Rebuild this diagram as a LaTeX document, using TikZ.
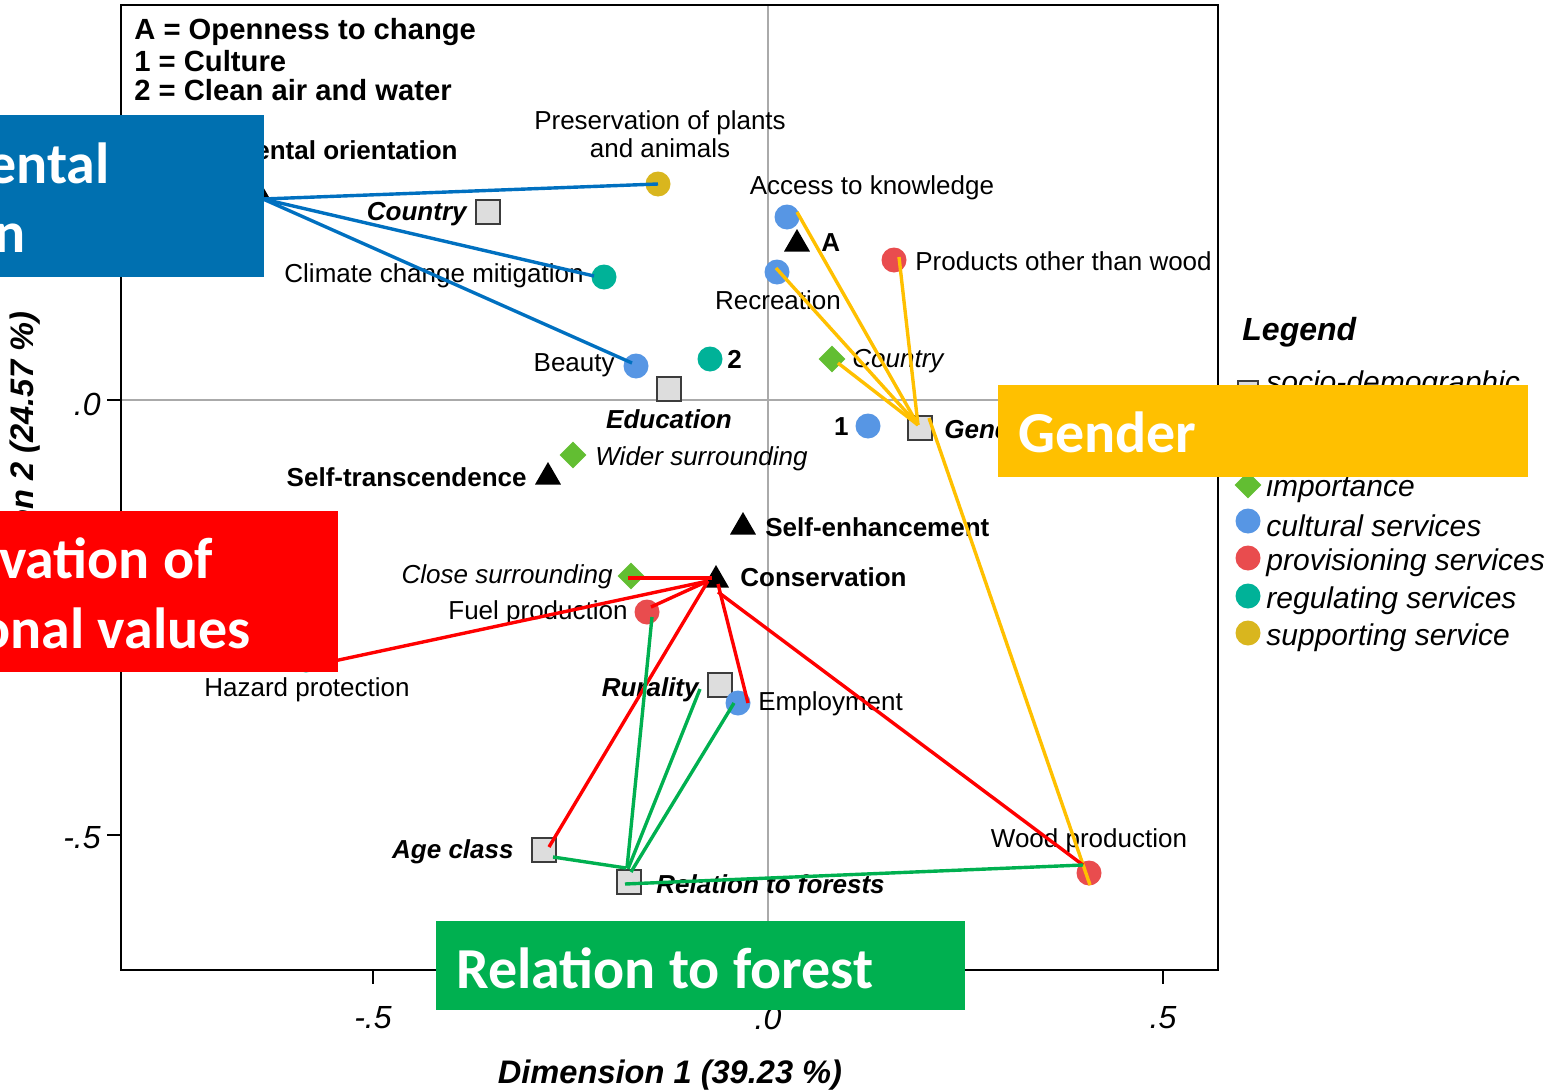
\documentclass[tikz,border=0pt]{standalone}
\usepackage{fontspec}
\setmainfont{Liberation Sans}
\newfontfamily\boxfont{Carlito}
\usetikzlibrary{shapes.geometric}
\definecolor{cultC}{RGB}{87,150,228}
\definecolor{provC}{RGB}{233,76,78}
\definecolor{regC}{RGB}{0,178,152}
\definecolor{supC}{RGB}{217,182,30}
\definecolor{dimC}{RGB}{98,190,50}
\definecolor{sqF}{RGB}{221,221,221}
\definecolor{sqD}{RGB}{60,60,60}
\definecolor{refC}{RGB}{170,170,170}
\definecolor{lnBlue}{RGB}{0,112,192}
\definecolor{lnGold}{RGB}{255,192,0}
\definecolor{lnRed}{RGB}{255,0,0}
\definecolor{lnGreen}{RGB}{0,176,80}
\definecolor{bxBlue}{RGB}{0,112,176}
\tikzset{
  lab/.style={inner sep=0pt, font=\fontsize{13}{15}\selectfont},
  labb/.style={inner sep=0pt, font=\fontsize{13}{15}\selectfont\bfseries},
  labi/.style={inner sep=0pt, font=\fontsize{13}{15}\selectfont\itshape},
  labbi/.style={inner sep=0pt, font=\fontsize{13}{15}\selectfont\bfseries\itshape},
  hdr/.style={inner sep=0pt, anchor=west, font=\fontsize{14.6}{16}\selectfont\bfseries},
  legtxt/.style={inner sep=0pt, anchor=west, font=\fontsize{15}{17}\selectfont\itshape},
  tick/.style={inner sep=0pt, font=\fontsize{16}{18}\selectfont\itshape},
  mk/.style={circle, inner sep=0pt, minimum size=12.5pt},
  cult/.style={mk, fill=cultC},
  prov/.style={mk, fill=provC},
  regu/.style={mk, fill=regC},
  supp/.style={mk, fill=supC},
  sqr/.style={rectangle, inner sep=0pt, minimum size=12pt, fill=sqF, draw=sqD, line width=0.7pt},
  tri/.style={regular polygon, regular polygon sides=3, inner sep=0pt, minimum size=15pt, fill=black},
  dia/.style={diamond, inner sep=0pt, minimum width=13.5pt, minimum height=13.5pt, fill=dimC},
  conn/.style={line width=1.7pt},
  bl/.style={conn, draw=lnBlue},
  yl/.style={conn, draw=lnGold},
  rl/.style={conn, draw=lnRed},
  gl/.style={conn, draw=lnGreen},
  frame/.style={line width=1.25pt, draw=black},
  boxtxt/.style={inner sep=0pt, text=white, font=\boxfont\fontsize{29}{33}\selectfont\bfseries},
}
\begin{document}
\begin{tikzpicture}[x=0.5pt,y=-0.5pt]
\useasboundingbox (0,0) rectangle (1555,1092);
% reference lines
\draw[refC, line width=1pt] (768,5) -- (768,970);
\draw[refC, line width=1pt] (121,400) -- (1218,400);
% frame and ticks
\draw[frame] (121,5) rectangle (1218,970);
\draw[frame] (107,400) -- (121,400);
\draw[frame] (107,835) -- (121,835);
\draw[frame] (373,970) -- (373,984);
\draw[frame] (768,970) -- (768,984);
\draw[frame] (1163,970) -- (1163,984);
\node[tick, anchor=east] (t0y) at (101,404) {.0};
\node[tick, anchor=east] (t5y) at (101,838) {-.5};
\node[tick] (tm5x) at (373,1018) {-.5};
\node[tick] (t0x) at (768,1018) {.0};
\node[tick] (t5x) at (1163,1018) {.5};
\node[inner sep=0pt, font=\fontsize{16.3}{18}\selectfont\bfseries\itshape] (xtitle) at (670,1075) {Dimension 1 (39.23 \%)};
\node[inner sep=0pt, rotate=90, font=\fontsize{16.3}{18}\selectfont\bfseries\itshape] (ytitle) at (25,484) {Dimension 2 (24.57 \%)};
% header
\node[hdr] (h1) at (134,32) {A = Openness to change};
\node[hdr] (h2) at (134,61) {1 = Culture};
\node[hdr] (h3) at (134,90) {2 = Clean air and water};
% markers
\node[tri] (env) at (258,193) {};
\node[supp] (pres) at (658,184) {};
\node[sqr] (countryS) at (488,212) {};
\node[regu] (clim) at (604,277) {};
\node[cult] (access) at (787,217) {};
\node[tri] (triA) at (797,244) {};
\node[cult] (recr) at (777,272) {};
\node[prov] (prod) at (894,260) {};
\node[cult] (beauty) at (636,366) {};
\node[regu] (two) at (710,359) {};
\node[dia] (countryD) at (832,359) {};
\node[sqr] (edu) at (669,389) {};
\node[cult] (one) at (868,426) {};
\node[sqr] (gender) at (920,428) {};
\node[dia] (wider) at (573,455) {};
\node[tri] (selftr) at (548,477) {};
\node[tri] (selfen) at (743,527) {};
\node[dia] (close) at (631,576) {};
\node[tri] (cons) at (716,580) {};
\node[prov] (fuel) at (647,612) {};
\node[regu] (hazard) at (306,660) {};
\node[sqr] (rural) at (720,685) {};
\node[cult] (employ) at (738,703) {};
\node[sqr] (age) at (544,850) {};
\node[sqr] (rel) at (629,882) {};
\node[prov] (wood) at (1089,873) {};
% labels
\node[labb, anchor=east] (envL) at (458,150) {Environmental orientation};
\node[lab, align=center] (presL) at (660,134) {Preservation of plants\\[-1pt]and animals};
\node[labbi, anchor=east] (countrySL) at (467,214) {Country};
\node[lab, anchor=east] (climL) at (584,276) {Climate change mitigation};
\node[lab] (accessL) at (872,188) {Access to knowledge};
\node[labb, anchor=west] (triAL) at (821,243) {A};
\node[lab] (recrL) at (778,300) {Recreation};
\node[lab, anchor=west] (prodL) at (915,261) {Products other than wood};
\node[lab, anchor=east] (beautyL) at (615,365) {Beauty};
\node[labb, anchor=west] (twoL) at (727,359) {2};
\node[labi, anchor=west] (countryDL) at (852,361) {Country};
\node[labbi] (eduL) at (669,419) {Education};
\node[labb, anchor=east] (oneL) at (849,427) {1};
\node[labbi, anchor=west] (genderL) at (944,429) {Gender};
\node[labi, anchor=west] (widerL) at (595,459) {Wider surrounding};
\node[labb, anchor=east] (selftrL) at (527,477) {Self-transcendence};
\node[labb, anchor=west] (selfenL) at (765,527) {Self-enhancement};
\node[labi, anchor=east] (closeL) at (613,577) {Close surrounding};
\node[labb, anchor=west] (consL) at (740,577) {Conservation};
\node[lab, anchor=east] (fuelL) at (628,613) {Fuel production};
\node[lab] (hazardL) at (307,690) {Hazard protection};
\node[labbi, anchor=east] (ruralL) at (699,690) {Rurality};
\node[lab, anchor=west] (employL) at (758,704) {Employment};
\node[labbi, anchor=east] (ageL) at (514,852) {Age class};
\node[labbi, anchor=west] (relL) at (656,884) {Relation to forests};
\node[lab] (woodL) at (1089,841) {Wood production};
% legend
\node[inner sep=0pt, anchor=west, font=\fontsize{16}{18}\selectfont\bfseries\itshape] (legT) at (1242,332) {Legend};
\node[sqr, minimum size=10pt] (legSq) at (1248,391) {};
\node[legtxt] (legSqL) at (1266,385) {socio-demographic};
\node[dia] (legDia) at (1248,485) {};
\node[legtxt] (legDiaL) at (1266,489) {importance};
\node[cult] (legCu) at (1248,521) {};
\node[legtxt] (legCuL) at (1266,526) {cultural services};
\node[prov] (legPr) at (1248,558) {};
\node[legtxt] (legPrL) at (1266,563) {provisioning services};
\node[regu] (legRe) at (1248,596) {};
\node[legtxt] (legReL) at (1266,601) {regulating services};
\node[supp] (legSu) at (1248,633) {};
\node[legtxt] (legSuL) at (1266,638) {supporting service};
% connectors: blue
\draw[bl] ([shift={(5,6)}]env.center) -- (pres.center);
\draw[bl] ([shift={(5,6)}]env.center) -- ([shift={(-10,-1)}]clim.center);
\draw[bl] ([shift={(5,6)}]env.center) -- ([shift={(-4,-3)}]beauty.center);
% yellow
\draw[yl] ([shift={(-2,-3)}]gender.center) -- ([shift={(10,-5)}]access.center);
\draw[yl] ([shift={(-2,-3)}]gender.center) -- ([shift={(-1,-4)}]recr.center);
\draw[yl] ([shift={(-2,-3)}]gender.center) -- ([shift={(6,4)}]countryD.center);
\draw[yl] ([shift={(-2,-3)}]gender.center) -- ([shift={(5,-3)}]prod.center);
\draw[yl] ([shift={(9,-10)}]gender.center) -- ([shift={(1,12)}]wood.center);
% red
\draw[rl] ([shift={(-4,-2)}]cons.center) -- ([shift={(-3,2)}]close.center);
\draw[rl] ([shift={(-8,1)}]cons.center) -- ([shift={(4,-5)}]fuel.center);
\draw[rl] ([shift={(-8,1)}]cons.center) -- ([shift={(0,7)}]hazard.center);
\draw[rl] ([shift={(-8,1)}]cons.center) -- ([shift={(5,-3)}]age.center);
\draw[rl] ([shift={(2,4)}]cons.center) -- ([shift={(10,0)}]employ.center);
\draw[rl] ([shift={(2,12)}]cons.center) -- ([shift={(-6,-8)}]wood.center);
% green
\draw[gl] ([shift={(-3,-14)}]rel.center) -- ([shift={(9,7)}]age.center);
\draw[gl] ([shift={(-2,-14)}]rel.center) -- ([shift={(5,5)}]fuel.center);
\draw[gl] ([shift={(-1,-13)}]rel.center) -- ([shift={(-20,4)}]rural.center);
\draw[gl] ([shift={(2,-10)}]rel.center) -- ([shift={(-4,0)}]employ.center);
\draw[gl] ([shift={(-4,2)}]rel.center) -- ([shift={(-6,-8)}]wood.center);
% overlay boxes
\fill[bxBlue] (0,115) rectangle (264,277);
\fill[lnRed] (0,511) rectangle (338,672);
\fill[lnGold] (998,385) rectangle (1528,477);
\fill[lnGreen] (436,921) rectangle (965,1010);
\node[boxtxt, anchor=base east] (bxB1) at (110,183) {ental};
\node[boxtxt, anchor=base east] (bxB2) at (26,252) {n};
\node[boxtxt, anchor=base east] (bxR1) at (213,578) {vation of};
\node[boxtxt, anchor=base east] (bxR2) at (251,648) {onal values};
\node[boxtxt, anchor=base west] (bxG) at (1018,452) {Gender};
\node[boxtxt, anchor=base west] (bxF) at (456,988) {Relation to forest};
\end{tikzpicture}
\end{document}
